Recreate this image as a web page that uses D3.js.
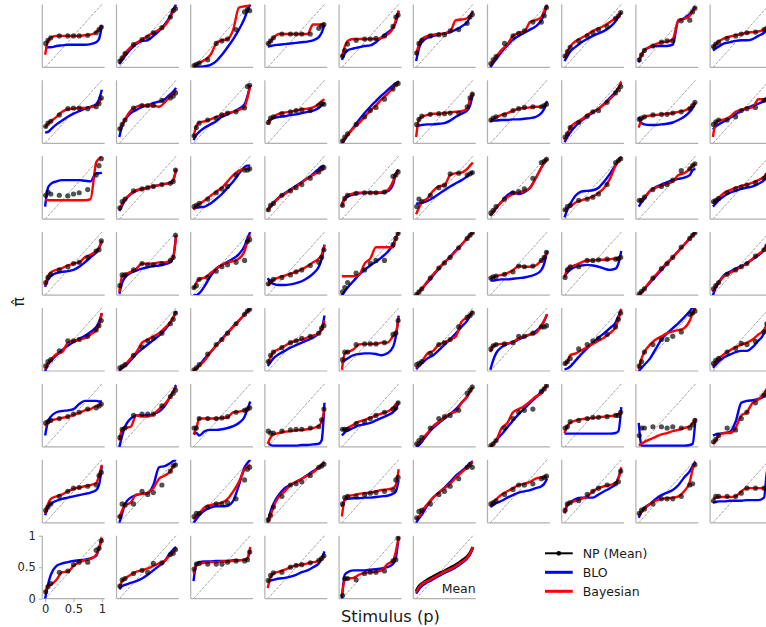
<!DOCTYPE html>
<html>
<head>
<meta charset="utf-8">
<script src="https://cdn.jsdelivr.net/npm/d3@7"></script>
<style>
  html, body { margin: 0; padding: 0; background: #fff; }
  svg { display: block; font-family: "DejaVu Sans", sans-serif; }
</style>
</head>
<body>
<svg id="main_svg" width="766" height="627"></svg>
<script>
// stimulus levels where the NP means were measured
const stimulusP = [.01, .05, .1, .25, .4, .5, .6, .75, .9, .95, .99];
// x positions where the fitted curves are sampled
const curveP = [0, .05, .1, .2, .3, .4, .5, .6, .7, .8, .9, .95, 1];

// NP (Mean) per participant, one row per panel
const npMean = [
  [.38,.43,.47,.5,.5,.5,.5,.51,.55,.6,.64],
  [.1,.15,.22,.36,.44,.48,.55,.63,.8,.9,.93],
  [.03,.05,.07,.12,.38,.42,.45,.6,.88,.92,.9],
  [.38,.42,.47,.53,.53,.53,.53,.53,.62,.66,.68],
  [.18,.27,.37,.43,.45,.45,.46,.5,.65,.8,.83],
  [.23,.38,.43,.5,.52,.52,.58,.6,.7,.8,.84],
  [.06,.12,.17,.38,.5,.54,.58,.72,.72,.82,.95],
  [.18,.25,.32,.42,.5,.55,.6,.65,.78,.82,.87],
  [.12,.2,.27,.34,.4,.42,.42,.74,.75,.88,.94],
  [.33,.37,.4,.46,.5,.53,.55,.56,.6,.62,.64],
  [.27,.32,.35,.45,.55,.56,.56,.55,.58,.63,.72],
  [.23,.3,.37,.56,.6,.6,.6,.68,.72,.75,.8],
  [.12,.25,.32,.37,.4,.45,.48,.5,.56,.9,.92],
  [.33,.4,.42,.47,.5,.52,.53,.52,.6,.63,.62],
  [.04,.1,.15,.3,.42,.52,.57,.7,.86,.93,.95],
  [.3,.38,.43,.46,.47,.47,.48,.48,.58,.72,.78],
  [.37,.4,.42,.45,.52,.55,.57,.58,.58,.6,.62],
  [.1,.15,.25,.33,.43,.5,.52,.65,.8,.85,.9],
  [.38,.4,.42,.45,.46,.46,.48,.5,.55,.6,.65],
  [.3,.34,.37,.37,.42,.52,.55,.57,.68,.7,.72],
  [.38,.43,.4,.38,.37,.4,.42,.47,.7,.85,.96],
  [.18,.28,.32,.45,.48,.5,.52,.55,.57,.6,.78],
  [.2,.22,.25,.32,.42,.48,.52,.7,.78,.78,.8],
  [.15,.22,.25,.38,.45,.5,.55,.65,.75,.8,.82],
  [.22,.33,.38,.41,.42,.42,.42,.43,.68,.7,.75],
  [.2,.32,.28,.38,.5,.54,.72,.73,.7,.72,.74],
  [.1,.14,.2,.32,.42,.44,.48,.65,.9,.92,.95],
  [.15,.2,.22,.3,.32,.35,.4,.55,.9,.93,.96],
  [.3,.3,.35,.47,.52,.55,.62,.77,.8,.85,.88],
  [.28,.3,.33,.42,.48,.51,.54,.58,.65,.7,.75],
  [.2,.28,.33,.4,.45,.5,.52,.6,.7,.72,.86],
  [.15,.32,.32,.4,.5,.48,.48,.5,.55,.6,.95],
  [.12,.15,.25,.28,.38,.45,.48,.52,.55,.85,.88],
  [.18,.22,.25,.28,.32,.37,.4,.47,.52,.6,.72],
  [.05,.12,.2,.35,.4,.5,.55,.55,.8,.9,.98],
  [.01,.05,.1,.27,.43,.51,.6,.75,.9,.95,.99],
  [.27,.29,.3,.33,.37,.46,.45,.46,.55,.6,.68],
  [.28,.4,.45,.45,.55,.55,.56,.57,.57,.58,.6],
  [.02,.06,.1,.27,.42,.5,.6,.76,.9,.95,.99],
  [.1,.15,.2,.33,.4,.45,.5,.62,.72,.78,.83],
  [.08,.15,.18,.32,.48,.48,.5,.55,.65,.72,.8],
  [.05,.07,.1,.25,.38,.48,.52,.6,.75,.82,.92],
  [.02,.05,.1,.27,.42,.5,.6,.75,.9,.95,.98],
  [.15,.25,.3,.37,.45,.48,.52,.55,.6,.68,.72],
  [.18,.3,.3,.42,.43,.43,.43,.45,.58,.6,.8],
  [.1,.12,.15,.28,.42,.45,.5,.7,.85,.88,.92],
  [.35,.4,.42,.43,.45,.55,.55,.6,.7,.7,.72],
  [.12,.15,.2,.35,.42,.48,.52,.58,.7,.82,.92],
  [.08,.15,.3,.42,.5,.5,.55,.62,.9,.92,.95],
  [.12,.17,.2,.3,.36,.44,.42,.47,.62,.75,.85],
  [.38,.4,.42,.45,.48,.52,.55,.6,.62,.65,.68],
  [.15,.28,.3,.5,.52,.52,.52,.65,.8,.85,.9],
  [.3,.3,.45,.45,.45,.46,.48,.55,.58,.6,.62],
  [.25,.22,.22,.25,.27,.28,.28,.3,.32,.43,.6],
  [.28,.28,.28,.37,.4,.45,.5,.55,.6,.62,.7],
  [.05,.1,.15,.3,.45,.48,.5,.58,.85,.9,.95],
  [.02,.05,.1,.3,.45,.55,.58,.6,.88,.92,.97],
  [.3,.32,.4,.42,.45,.47,.47,.48,.5,.5,.55],
  [.18,.3,.3,.32,.32,.3,.32,.3,.3,.35,.42],
  [.08,.12,.18,.3,.27,.45,.55,.7,.82,.88,.9],
  [.2,.25,.3,.42,.5,.55,.56,.58,.6,.75,.8],
  [.1,.3,.28,.3,.5,.45,.48,.6,.82,.9,.92],
  [.1,.15,.15,.25,.3,.3,.32,.38,.68,.85,.88],
  [.05,.12,.25,.42,.6,.62,.65,.75,.88,.9,.93],
  [.3,.4,.42,.42,.45,.47,.48,.5,.52,.68,.72],
  [.08,.18,.2,.3,.45,.5,.58,.7,.88,.92,.88],
  [.3,.32,.35,.45,.53,.6,.6,.62,.7,.72,.74],
  [.2,.3,.32,.35,.45,.5,.55,.6,.62,.65,.82],
  [.15,.2,.22,.3,.38,.38,.38,.42,.6,.62,.92],
  [.35,.42,.42,.42,.42,.47,.55,.55,.55,.55,.56],
  [.11,.19,.24,.42,.44,.54,.58,.58,.77,.8,.92],
  [.2,.3,.32,.4,.45,.42,.56,.57,.7,.72,.78],
  [.47,.55,.56,.55,.55,.55,.58,.6,.6,.62,.74],
  [.29,.37,.41,.42,.5,.53,.54,.57,.61,.64,.68],
  [.05,.32,.32,.3,.4,.42,.42,.44,.6,.62,.96]
];

// BLO fit, sampled at curveP
const bloFit = [
  [.31,.32,.32,.34,.35,.36,.36,.36,.36,.37,.4,.45,.67],
  [.05,.12,.18,.29,.37,.42,.43,.5,.58,.68,.82,.92,1],
  [.01,.01,.01,.02,.04,.1,.2,.32,.45,.6,.78,.9,1],
  [.33,.34,.35,.36,.37,.38,.39,.4,.41,.43,.48,.55,.68],
  [.12,.22,.27,.3,.32,.34,.35,.4,.48,.55,.63,.72,.9],
  [.1,.3,.4,.47,.5,.52,.54,.56,.6,.65,.72,.8,.9],
  [0,.07,.13,.25,.35,.44,.5,.55,.6,.65,.75,.85,1],
  [.1,.18,.25,.33,.4,.45,.5,.54,.58,.64,.73,.8,.88],
  [.08,.2,.27,.32,.34,.34,.34,.36,.75,.78,.85,.9,.96],
  [.27,.3,.33,.38,.4,.42,.43,.43,.45,.5,.55,.6,.66],
  [.17,.18,.22,.3,.36,.42,.47,.51,.55,.58,.62,.7,.85],
  [.1,.28,.37,.48,.53,.58,.6,.64,.66,.7,.78,.82,.88],
  [.05,.13,.18,.25,.3,.35,.42,.46,.5,.55,.62,.75,.92],
  [.35,.38,.4,.42,.43,.45,.46,.48,.5,.52,.56,.6,.65],
  [0,.06,.13,.25,.37,.48,.58,.67,.76,.84,.92,.95,.98],
  [.25,.28,.29,.3,.3,.31,.32,.36,.42,.47,.52,.6,.78],
  [.35,.36,.36,.37,.37,.38,.38,.39,.4,.42,.48,.55,.67],
  [.02,.1,.17,.28,.36,.43,.49,.55,.63,.72,.82,.88,.96],
  [.42,.32,.3,.29,.29,.3,.31,.33,.37,.42,.5,.56,.64],
  [.22,.27,.3,.35,.4,.46,.52,.56,.6,.63,.67,.7,.73],
  [.2,.5,.56,.6,.62,.62,.62,.62,.61,.6,.73,.73,.74],
  [.13,.22,.3,.4,.45,.48,.5,.52,.54,.56,.58,.62,.78],
  [.17,.18,.19,.2,.25,.32,.4,.5,.6,.72,.83,.85,.85],
  [.15,.21,.26,.35,.41,.47,.53,.59,.65,.72,.8,.84,.85],
  [.25,.32,.36,.39,.41,.42,.42,.42,.42,.44,.55,.72,.78],
  [.25,.25,.26,.29,.34,.4,.46,.52,.57,.62,.68,.72,.75],
  [.05,.11,.17,.28,.38,.43,.4,.43,.5,.65,.82,.9,.96],
  [.03,.15,.24,.38,.44,.45,.46,.5,.6,.72,.86,.93,.99],
  [.2,.27,.33,.45,.51,.55,.59,.62,.64,.66,.7,.78,.8],
  [.2,.25,.3,.37,.42,.45,.48,.5,.52,.56,.62,.68,.75],
  [.13,.25,.3,.35,.37,.38,.4,.45,.52,.6,.68,.75,.85],
  [.02,.2,.28,.35,.39,.42,.44,.46,.47,.49,.52,.6,.95],
  [0,0,.03,.15,.3,.42,.48,.53,.58,.65,.78,.9,1],
  [.27,.2,.18,.16,.16,.17,.19,.22,.27,.34,.45,.57,.8],
  [0,.06,.12,.22,.32,.4,.47,.53,.6,.68,.8,.9,1],
  [0,.05,.1,.2,.31,.42,.52,.61,.71,.8,.9,.95,1],
  [.23,.23,.24,.25,.25,.26,.27,.28,.3,.33,.4,.5,.7],
  [.3,.36,.4,.45,.47,.48,.47,.45,.42,.4,.42,.5,.7],
  [0,.05,.1,.2,.3,.4,.5,.6,.7,.8,.9,.95,1],
  [0,.12,.2,.32,.37,.42,.46,.51,.57,.63,.72,.8,.9],
  [0,.1,.16,.25,.33,.4,.46,.51,.56,.62,.7,.78,.92],
  [0,.05,.08,.17,.27,.35,.42,.49,.56,.65,.77,.85,.95],
  [0,.04,.09,.2,.3,.41,.51,.61,.71,.8,.9,.95,1],
  [.08,.14,.2,.27,.32,.37,.41,.45,.49,.53,.6,.66,.88],
  [.12,.17,.2,.25,.27,.28,.28,.27,.25,.28,.38,.55,.88],
  [.03,.08,.12,.2,.25,.33,.42,.5,.6,.7,.8,.88,.95],
  [.02,.17,.28,.38,.43,.46,.5,.54,.58,.63,.72,.8,.9],
  [.03,.04,.07,.17,.27,.36,.45,.53,.6,.68,.77,.87,.98],
  [0,.05,.1,.2,.35,.5,.6,.68,.76,.85,.95,1,1],
  [.05,.1,.15,.22,.26,.3,.32,.32,.38,.48,.6,.75,.9],
  [.18,.4,.48,.55,.57,.58,.6,.68,.73,.73,.73,.72,.72],
  [0,.18,.32,.45,.5,.5,.5,.52,.56,.65,.8,.88,.98],
  [.2,.22,.18,.25,.27,.27,.28,.3,.33,.38,.48,.6,.72],
  [.08,.03,.02,.02,.02,.02,.02,.03,.03,.04,.05,.1,.7],
  [.18,.23,.26,.3,.34,.36,.38,.42,.46,.5,.55,.6,.72],
  [0,.03,.08,.2,.3,.38,.45,.52,.6,.7,.8,.88,.95],
  [0,.05,.1,.2,.31,.42,.52,.61,.7,.78,.88,.93,.98],
  [.21,.21,.21,.21,.21,.21,.21,.21,.21,.21,.22,.25,.63],
  [.38,.02,.02,.02,.02,.02,.02,.02,.02,.02,.03,.05,.45],
  [.18,.2,.21,.22,.24,.4,.7,.73,.74,.76,.8,.83,.85],
  [.12,.25,.3,.35,.38,.4,.42,.44,.46,.48,.52,.6,.9],
  [0,.15,.3,.4,.44,.46,.47,.6,.88,.9,.95,.98,1],
  [0,.06,.12,.2,.24,.26,.26,.27,.35,.6,.88,.95,1],
  [0,.18,.3,.45,.55,.6,.65,.7,.76,.82,.88,.92,.96],
  [.25,.36,.38,.39,.39,.4,.4,.41,.42,.43,.46,.5,.68],
  [0,.07,.13,.28,.4,.48,.56,.65,.75,.82,.9,.95,.97],
  [.25,.28,.31,.35,.4,.44,.48,.5,.52,.55,.58,.62,.7],
  [.15,.28,.32,.38,.4,.4,.4,.45,.5,.55,.62,.72,.85],
  [.08,.18,.24,.3,.38,.44,.48,.52,.6,.72,.82,.9,.97],
  [.32,.33,.34,.34,.35,.35,.35,.36,.36,.36,.4,.8,.95],
  [0,.22,.38,.52,.56,.58,.6,.61,.62,.64,.68,.8,.96],
  [.15,.2,.22,.25,.28,.32,.38,.45,.52,.6,.73,.78,.82],
  [.28,.55,.58,.59,.59,.6,.6,.6,.61,.61,.62,.64,.78],
  [.27,.29,.3,.32,.33,.35,.38,.42,.45,.5,.56,.63,.75],
  [0,.38,.42,.45,.45,.45,.46,.47,.48,.5,.55,.65,.98]
];

// Bayesian fit, sampled at curveP
const bayesFit = [
  [.2,.42,.47,.5,.5,.5,.5,.5,.51,.52,.56,.6,.66],
  [.1,.15,.22,.32,.39,.44,.5,.55,.6,.66,.8,.9,.97],
  [.02,.04,.07,.12,.2,.38,.43,.45,.6,.95,.97,.98,1],
  [.36,.42,.47,.53,.53,.53,.53,.53,.53,.68,.68,.68,.7],
  [.17,.33,.42,.45,.45,.45,.45,.45,.47,.52,.62,.75,.9],
  [.2,.37,.45,.5,.52,.53,.54,.57,.75,.76,.78,.82,.88],
  [.03,.1,.17,.28,.37,.5,.55,.57,.72,.75,.8,.9,.98],
  [.15,.25,.33,.42,.47,.52,.58,.62,.66,.72,.78,.82,.88],
  [.12,.2,.27,.33,.37,.4,.41,.45,.75,.77,.82,.9,.96],
  [.3,.37,.41,.46,.49,.51,.53,.55,.56,.57,.6,.62,.66],
  [.25,.31,.35,.42,.5,.54,.55,.56,.56,.57,.6,.65,.72],
  [.22,.3,.38,.52,.58,.6,.6,.6,.58,.65,.75,.78,.84],
  [.1,.28,.33,.35,.38,.42,.45,.48,.5,.53,.58,.72,.92],
  [.3,.37,.42,.47,.49,.5,.52,.54,.55,.57,.63,.67,.7],
  [.02,.08,.14,.24,.32,.42,.52,.6,.7,.78,.88,.93,.97],
  [.1,.38,.42,.45,.47,.47,.48,.49,.5,.51,.55,.7,.8],
  [.35,.38,.41,.45,.48,.52,.55,.56,.57,.58,.58,.6,.62],
  [.05,.15,.25,.33,.38,.45,.5,.55,.62,.7,.8,.88,.98],
  [.25,.38,.42,.44,.45,.46,.47,.48,.5,.52,.56,.6,.65],
  [.1,.33,.36,.38,.42,.5,.53,.56,.57,.7,.7,.71,.72],
  [.3,.3,.3,.3,.3,.3,.3,.3,.3,.32,.9,.96,1],
  [.15,.25,.32,.4,.46,.48,.5,.52,.54,.56,.58,.62,.8],
  [.15,.2,.24,.3,.37,.44,.5,.6,.7,.77,.8,.8,.81],
  [.13,.2,.25,.34,.4,.46,.52,.58,.65,.7,.76,.8,.85],
  [.2,.33,.38,.41,.42,.42,.42,.42,.43,.46,.6,.72,.78],
  [.08,.18,.27,.33,.45,.52,.54,.7,.73,.74,.8,.85,.9],
  [.06,.12,.18,.28,.35,.4,.42,.45,.5,.65,.82,.9,.96],
  [.13,.18,.2,.27,.3,.33,.36,.42,.5,.64,.85,.92,.98],
  [.28,.3,.35,.45,.5,.53,.56,.6,.7,.73,.8,.85,.88],
  [.25,.3,.34,.42,.46,.5,.53,.55,.58,.62,.67,.72,.78],
  [.15,.3,.36,.4,.43,.47,.5,.52,.6,.64,.7,.75,.87],
  [.05,.3,.33,.37,.42,.5,.5,.5,.52,.52,.55,.6,.95],
  [.1,.2,.25,.28,.35,.42,.48,.52,.54,.58,.7,.85,.95],
  [.15,.2,.24,.28,.31,.34,.37,.41,.46,.52,.58,.64,.8],
  [.3,.3,.3,.3,.32,.5,.58,.76,.76,.76,.76,.9,1],
  [0,.05,.1,.22,.33,.43,.52,.6,.7,.8,.9,.95,1],
  [.25,.28,.3,.32,.35,.4,.46,.45,.45,.47,.55,.6,.68],
  [.27,.42,.45,.48,.52,.55,.55,.56,.56,.57,.58,.58,.6],
  [0,.04,.1,.22,.32,.42,.52,.6,.7,.8,.9,.95,1],
  [.05,.15,.2,.3,.35,.4,.45,.5,.58,.65,.72,.78,.85],
  [.03,.12,.18,.27,.3,.45,.48,.5,.52,.58,.65,.73,.92],
  [.02,.06,.1,.2,.3,.45,.5,.55,.6,.68,.78,.85,.93],
  [0,.04,.08,.17,.3,.4,.5,.6,.7,.8,.9,.95,1],
  [.12,.22,.3,.35,.4,.45,.48,.5,.53,.56,.6,.67,.8],
  [.02,.28,.3,.34,.42,.43,.43,.43,.45,.45,.55,.6,.85],
  [.05,.1,.15,.28,.32,.42,.45,.5,.55,.78,.85,.9,.95],
  [.3,.4,.42,.43,.44,.46,.52,.55,.58,.6,.72,.8,.9],
  [.1,.15,.25,.28,.33,.38,.43,.48,.53,.6,.7,.82,.98],
  [.03,.2,.3,.42,.5,.55,.6,.63,.65,.68,.8,.92,1],
  [.08,.15,.2,.27,.33,.38,.42,.45,.5,.58,.65,.75,.9],
  [.33,.38,.42,.44,.46,.48,.51,.54,.58,.6,.65,.66,.68],
  [.1,.28,.3,.32,.5,.48,.48,.52,.6,.68,.8,.88,.95],
  [.2,.3,.45,.45,.45,.45,.46,.47,.55,.56,.58,.6,.65],
  [.05,.15,.2,.22,.24,.25,.26,.27,.28,.3,.33,.4,.6],
  [.28,.27,.3,.35,.4,.43,.46,.5,.53,.56,.62,.68,.7],
  [.02,.07,.12,.22,.33,.4,.47,.53,.56,.7,.8,.88,.95],
  [0,.05,.1,.3,.38,.55,.6,.65,.72,.8,.85,.92,.98],
  [.22,.33,.38,.42,.44,.45,.46,.47,.48,.49,.5,.52,.55],
  [.03,.05,.08,.12,.16,.2,.22,.25,.27,.3,.33,.38,.45],
  [.05,.1,.18,.22,.22,.3,.5,.55,.7,.75,.85,.9,.95],
  [.15,.3,.38,.42,.45,.5,.54,.56,.58,.6,.63,.75,.92],
  [.08,.2,.28,.32,.45,.46,.48,.55,.7,.75,.82,.9,.94],
  [.05,.12,.15,.25,.28,.3,.32,.38,.5,.65,.85,.9,.92],
  [0,.12,.25,.42,.5,.6,.65,.7,.75,.8,.88,.92,.96],
  [.1,.38,.42,.44,.46,.47,.48,.5,.52,.53,.55,.6,.85],
  [.05,.1,.18,.3,.4,.48,.55,.62,.72,.8,.88,.93,.96],
  [.27,.32,.37,.45,.5,.55,.6,.62,.65,.7,.72,.72,.74],
  [.15,.3,.32,.35,.38,.42,.5,.55,.58,.6,.63,.7,.88],
  [.12,.18,.22,.3,.35,.38,.39,.4,.42,.5,.65,.85,.95],
  [.38,.4,.41,.41,.41,.42,.5,.55,.55,.55,.55,.55,.56],
  [.1,.2,.22,.3,.42,.43,.52,.58,.61,.63,.7,.8,.97],
  [.18,.28,.32,.38,.43,.45,.48,.52,.56,.6,.7,.74,.8],
  [.4,.53,.56,.57,.58,.58,.59,.59,.6,.61,.62,.64,.82],
  [.17,.34,.4,.43,.46,.5,.53,.54,.56,.58,.6,.64,.68],
  [.05,.3,.32,.33,.38,.41,.42,.43,.45,.55,.6,.75,.98]
];

// group mean panel
const meanNP = [.12,.2,.24,.3,.35,.4,.44,.49,.54,.6,.67,.73,.82];
const meanBLO = [.08,.15,.2,.26,.31,.36,.41,.45,.5,.56,.64,.7,.8];
const meanBayes = [.1,.18,.23,.28,.33,.38,.43,.47,.52,.58,.65,.72,.82];

const tickValues = [0, 0.5, 1];
const legendLabels = ['NP (Mean)', 'BLO', 'Bayesian'];
const legendColors = ['#000000', '#0000ff', '#ff0000'];

// layout
const nCols = 10;
const gridLeft = 42.3;
const firstBottom = 67.4;
const colStep = 74.2;
const rowStep = 75.9;
const panelW = 62.4;
const panelH = 63;
const spineColor = '#b0b0b0';

const svg = d3.select('#main_svg');

const x = d3.scaleLinear().domain([-0.05, 1.05]).range([0, panelW]);
const y = d3.scaleLinear().domain([0, 1]).range([panelH, 0]);

svg.append('defs')
  .append('clipPath')
  .attr('id', 'panel_clip')
  .append('rect')
  .attr('x', 0)
  .attr('y', 0)
  .attr('width', panelW)
  .attr('height', panelH);

const line = d3.line()
  .x(d => x(d[0]))
  .y(d => y(d[1]))
  .curve(d3.curveMonotoneX);

function makePanel(col, row) {
  let inst_x = gridLeft + col * colStep;
  let inst_y = firstBottom + row * rowStep - panelH;
  let g = svg.append('g')
    .attr('class', 'panel')
    .attr('transform', 'translate(' + inst_x + ',' + inst_y + ')');

  // identity line
  g.append('line')
    .attr('x1', x(0)).attr('y1', y(0))
    .attr('x2', x(1)).attr('y2', y(1))
    .attr('stroke', '#8c8c8c')
    .attr('stroke-width', 0.8)
    .attr('stroke-dasharray', '3,1.3');

  // spines
  g.append('line')
    .attr('x1', 0).attr('y1', panelH)
    .attr('x2', panelW).attr('y2', panelH)
    .attr('stroke', spineColor).attr('stroke-width', 1.2);
  g.append('line')
    .attr('x1', 0).attr('y1', 0)
    .attr('x2', 0).attr('y2', panelH)
    .attr('stroke', spineColor).attr('stroke-width', 1.2);

  return g.append('g').attr('clip-path', 'url(#panel_clip)');
}

function addCurve(g, values, color, width) {
  g.append('path')
    .datum(curveP.map((p, i) => [p, values[i]]))
    .attr('d', line)
    .attr('fill', 'none')
    .attr('stroke', color)
    .attr('stroke-width', width)
    .attr('stroke-linejoin', 'round');
}

// participant panels
npMean.forEach(function(dots, i) {
  let col = i % nCols;
  let row = Math.floor(i / nCols);
  let g = makePanel(col, row);

  addCurve(g, bloFit[i], '#0000ff', 2.4);
  addCurve(g, bayesFit[i], '#ff0000', 2.4);

  g.selectAll('circle')
    .data(stimulusP.map((p, k) => [p, dots[k]]))
    .enter()
    .append('circle')
    .attr('cx', d => x(d[0]))
    .attr('cy', d => y(d[1]))
    .attr('r', 2.6)
    .attr('fill', '#000')
    .attr('fill-opacity', 0.68);
});

// mean panel sits right after the last participant
let meanIndex = npMean.length;
let meanG = makePanel(meanIndex % nCols, Math.floor(meanIndex / nCols));
addCurve(meanG, meanNP, '#000000', 3);
addCurve(meanG, meanBLO, '#0000ff', 2.4);
addCurve(meanG, meanBayes, '#ff0000', 2.4);

svg.append('text')
  .attr('x', gridLeft + (meanIndex % nCols) * colStep + x(0.75))
  .attr('y', firstBottom + Math.floor(meanIndex / nCols) * rowStep - 6)
  .attr('text-anchor', 'middle')
  .style('font-size', '12.5px')
  .attr('fill', '#1a1a1a')
  .text('Mean');

// axes on the bottom-left panel only
let lastRow = Math.floor(meanIndex / nCols);
let axisG = svg.append('g')
  .attr('transform', 'translate(' + gridLeft + ',' + (firstBottom + lastRow * rowStep - panelH) + ')');

let yAxis = axisG.append('g')
  .call(d3.axisLeft(y).tickValues(tickValues).tickFormat(d3.format('~g')).tickSize(3.5).tickPadding(3));
let xAxis = axisG.append('g')
  .attr('transform', 'translate(0,' + panelH + ')')
  .call(d3.axisBottom(x).tickValues(tickValues).tickFormat(d3.format('~g')).tickSize(3.5).tickPadding(3));

[yAxis, xAxis].forEach(function(a) {
  a.select('.domain').remove();
  a.selectAll('.tick line').attr('stroke', spineColor).attr('stroke-width', 1);
  a.selectAll('.tick text')
    .attr('fill', '#262626')
    .style('font-size', '11.5px')
    .style('font-family', '"DejaVu Sans", sans-serif');
});

// axis titles
svg.append('text')
  .attr('x', 390.5)
  .attr('y', 622)
  .attr('text-anchor', 'middle')
  .style('font-size', '16.3px')
  .attr('fill', '#1a1a1a')
  .text('Stimulus (p)');

// rotated y title, glyph extends to the left of the baseline
svg.append('g')
  .attr('transform', 'translate(24,302) rotate(-90)')
  .append('text')
  .attr('text-anchor', 'middle')
  .style('font-size', '16px')
  .attr('fill', '#1a1a1a')
  .text('\u03C0\u0302');

// legend
let legend = svg.append('g').attr('transform', 'translate(545,553.3)');
legendLabels.forEach(function(label, i) {
  let row = legend.append('g').attr('transform', 'translate(0,' + i * 19 + ')');
  row.append('line')
    .attr('x1', 0).attr('x2', 27.7)
    .attr('y1', 0).attr('y2', 0)
    .attr('stroke', legendColors[i])
    .attr('stroke-width', i === 0 ? 2 : 3);
  if (i === 0) {
    row.append('circle').attr('cx', 13.8).attr('cy', 0).attr('r', 2.4).attr('fill', '#000');
  }
  row.append('text')
    .attr('x', 37.7)
    .attr('y', 0)
    .attr('dy', '0.36em')
    .style('font-size', '12.5px')
    .attr('fill', '#1a1a1a')
    .text(label);
});
</script>
</body>
</html>
